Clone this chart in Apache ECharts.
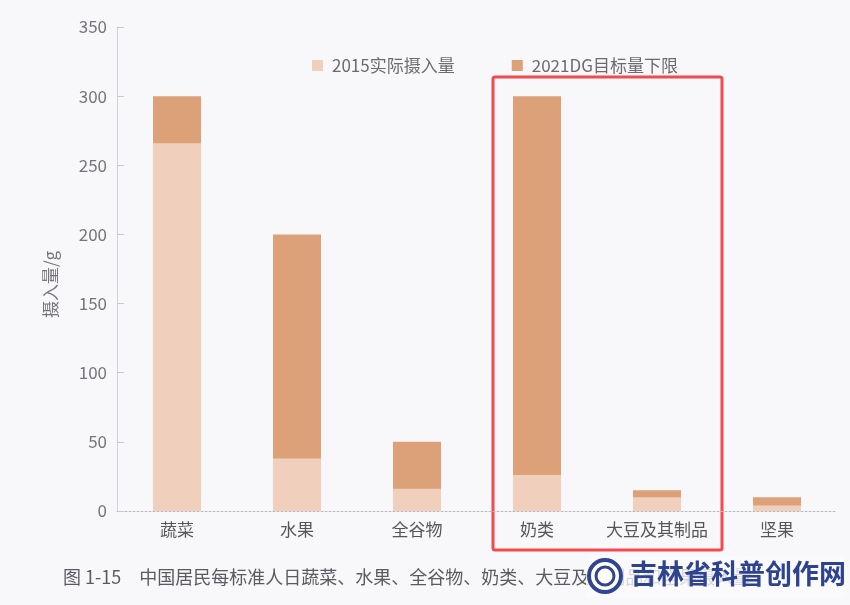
<!DOCTYPE html>
<html>
<head>
<meta charset="utf-8">
<script src="https://cdn.jsdelivr.net/npm/echarts@6/dist/echarts.min.js"></script>
<style>
  html, body { margin: 0; padding: 0; background: #f8f8fa; }
  #chart { width: 850px; height: 605px; }
</style>
</head>
<body>
<div id="chart"></div>
<script>
// Food groups along the x axis
const categories = ['蔬菜', '水果', '全谷物', '奶类', '大豆及其制品', '坚果'];
// Actual daily intake in 2015 (g per standard person per day)
const actual2015 = [266, 38, 16, 26, 10, 4];
// Lower bound of the 2021 Dietary Guidelines target (g)
const target2021 = [300, 200, 50, 300, 15, 10];
const seriesNames = ['2015实际摄入量', '2021DG目标量下限'];
const yTicks = { min: 0, max: 350, interval: 50 };

const FONT = '"Noto Sans CJK SC", "Noto Sans", sans-serif';
const chart = echarts.init(document.getElementById('chart'), null, { renderer: 'canvas' });

chart.setOption({
  backgroundColor: '#f8f8fa',
  animation: false,
  textStyle: { fontFamily: FONT },
  grid: { left: 117, right: 13, top: 27, bottom: 94 },
  legend: {
    data: seriesNames,
    left: 307,
    top: 52,
    icon: 'rect',
    itemWidth: 11,
    itemHeight: 11,
    itemGap: 57,
    textStyle: { fontSize: 17, color: '#6a6a72', fontFamily: FONT, padding: [0, 0, 0, 4] }
  },
  xAxis: {
    type: 'category',
    data: categories,
    axisLine: { show: true, lineStyle: { color: '#b9b9c4', type: [2, 2], width: 1 } },
    axisTick: { show: false },
    axisLabel: { interval: 0, fontSize: 17, color: '#55555c', margin: 10, fontFamily: FONT }
  },
  yAxis: {
    type: 'value',
    min: yTicks.min,
    max: yTicks.max,
    interval: yTicks.interval,
    splitLine: { show: false },
    axisLine: { show: true, lineStyle: { color: '#d0d0de', width: 1 } },
    axisTick: { show: true, inside: true, length: 7, lineStyle: { color: '#c6c6d4' } },
    axisLabel: { fontSize: 17, color: '#74747c', margin: 10, fontFamily: FONT }
  },
  series: [
    {
      name: seriesNames[1],
      type: 'bar',
      data: target2021,
      barWidth: 48,
      barGap: '-100%',
      itemStyle: { color: '#dda179' }
    },
    {
      name: seriesNames[0],
      type: 'bar',
      data: actual2015,
      barWidth: 48,
      barGap: '-100%',
      itemStyle: { color: '#f1cfbd' }
    }
  ],
  graphic: [
    {
      // y-axis title, reading bottom to top
      type: 'text',
      x: 42,
      y: 318,
      rotation: Math.PI / 2,
      style: { text: '摄入量/g', fontSize: 17, fill: '#74747c', fontFamily: FONT }
    },
    {
      type: 'rect',
      shape: { x: 493, y: 77, width: 229, height: 473, r: 2 },
      style: { fill: 'none', stroke: '#f24a4f', lineWidth: 3 }
    },
    {
      type: 'text',
      x: 63,
      y: 568,
      style: {
        text: '图 1-15　中国居民每标准人日蔬菜、水果、全谷物、奶类、大豆及其制品和坚果摄入量',
        fontSize: 18, fill: '#5a5a62', fontFamily: FONT
      }
    },
    {
      type: 'rect',
      shape: { x: 586, y: 556, width: 258, height: 42 },
      style: { fill: 'rgba(250,250,252,0.78)' }
    },
    {
      type: 'circle',
      shape: { cx: 605, cy: 576, r: 16 },
      style: { fill: '#ffffff', stroke: '#2f4590', lineWidth: 4 }
    },
    {
      type: 'circle',
      shape: { cx: 605, cy: 576, r: 9 },
      style: { fill: 'none', stroke: '#2f4590', lineWidth: 3 }
    },
    {
      type: 'text',
      x: 630,
      y: 560,
      style: {
        text: '吉林省科普创作网',
        fontSize: 27, fontWeight: 'bold', fill: '#2d4390', fontFamily: FONT
      }
    }
  ]
});
</script>
</body>
</html>
